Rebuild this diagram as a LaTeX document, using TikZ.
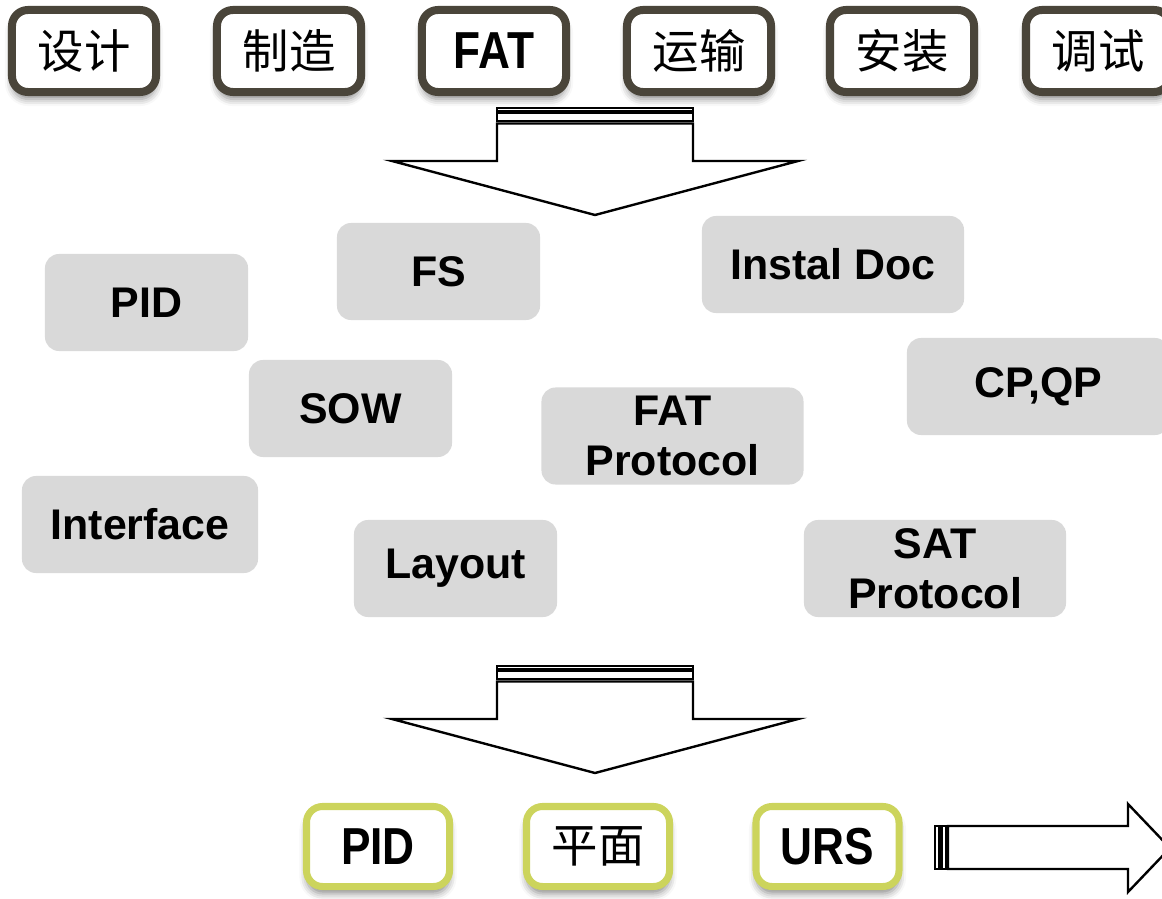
\documentclass[tikz,border=0pt]{standalone}
\usepackage{fontspec}
\setmainfont{Liberation Sans}
\newfontfamily\cjk{Noto Sans CJK SC}
\newfontfamily\narrowsans{Liberation Sans}[FakeStretch=0.85]
\usetikzlibrary{shadows.blur}

\definecolor{stageframe}{RGB}{74,69,58}
\definecolor{docgray}{RGB}{217,217,217}
\definecolor{inputgreen}{RGB}{204,212,92}

\tikzset{
	boxshadow/.style={blur shadow={shadow xshift=0pt, shadow yshift=-5pt, shadow blur radius=5pt, shadow opacity=45}},
	stage/.style={draw=stageframe, line width=5.7pt, rounded corners=0.4cm, fill=white,
		minimum width=3.6cm, minimum height=2.05cm, inner sep=0pt, boxshadow},
	inbox/.style={stage, draw=inputgreen, line width=5pt, minimum width=3.575cm, minimum height=2.0cm},
	doc/.style={fill=docgray, rounded corners=0.35cm, minimum width=5.075cm,
		minimum height=2.425cm, inner sep=0pt, align=center, font=\bfseries\fontsize{30.5}{35.5}\selectfont},
	widedoc/.style={doc, minimum width=6.55cm},
	cjktext/.style={font=\cjk\fontsize{33}{36}\selectfont},
	narrowtext/.style={font=\narrowsans\bfseries\fontsize{37}{40}\selectfont},
	blockarrow/.style={draw=black, fill=white, line width=1.7pt, line join=miter}
}

\begin{document}
\begin{tikzpicture}[x=0.025cm, y=-0.025cm]
	% NOTE: units are pixels of the 1162x899 frame, y runs downwards.
	\useasboundingbox (0,0) rectangle (1162,899);
	\clip (0,0) rectangle (1162,899);

	% stages along the top
	\node[stage, cjktext] (design) at (84,51) {设计};
	\node[stage, cjktext] (manuf) at (289,51) {制造};
	\node[stage, narrowtext] (fat) at (494,51) {FAT};
	\node[stage, cjktext] (transport) at (699,51) {运输};
	\node[stage, cjktext] (install) at (902,51) {安装};
	\node[stage, cjktext] (commission) at (1098,51) {调试};

	% first arrow
	\draw[blockarrow] (497,123.5) -- (497,161) -- (392,161) -- (595,215) --
		(798,161) -- (693,161) -- (693,123.5) -- cycle;
	\draw[blockarrow] (497,108) rectangle (693,111);
	\draw[blockarrow] (497,112.5) rectangle (693,121);

	% documents
	\node[doc] (pid) at (146.5,302.5) {PID};
	\node[doc] (fs) at (438.5,271.5) {FS};
	\node[widedoc] (instdoc) at (833,264.5) {Instal Doc};
	\node[doc] (sow) at (350.5,408.5) {SOW};
	\node[widedoc] (fatprot) at (672.5,436) {FAT\\Protocol};
	\node[widedoc] (cpqp) at (1038,386.5) {CP,QP};
	\node[doc, minimum width=5.9cm] (iface) at (140,524.5) {Interface};
	\node[doc] (layout) at (455.5,568.5) {Layout};
	\node[widedoc] (satprot) at (935,568.5) {SAT\\Protocol};

	% second arrow
	\draw[blockarrow] (497,681.5) -- (497,719) -- (392,719) -- (595,773) --
		(798,719) -- (693,719) -- (693,681.5) -- cycle;
	\draw[blockarrow] (497,666) rectangle (693,669);
	\draw[blockarrow] (497,670.5) rectangle (693,679);

	% inputs along the bottom
	\node[inbox, narrowtext] (outpid) at (378,846.5) {PID};
	\node[inbox, cjktext] (plan) at (598,846.5) {平面};
	\node[inbox, narrowtext] (urs) at (827.5,846.5) {URS};

	% arrow to the right
	\draw[blockarrow] (948,826) -- (1128,826) -- (1128,804) -- (1170,848) --
		(1128,892) -- (1128,869) -- (948,869) -- cycle;
	\draw[blockarrow] (935,826) rectangle (939,869);
	\draw[blockarrow] (941.5,826) rectangle (946,869);
\end{tikzpicture}
\end{document}
